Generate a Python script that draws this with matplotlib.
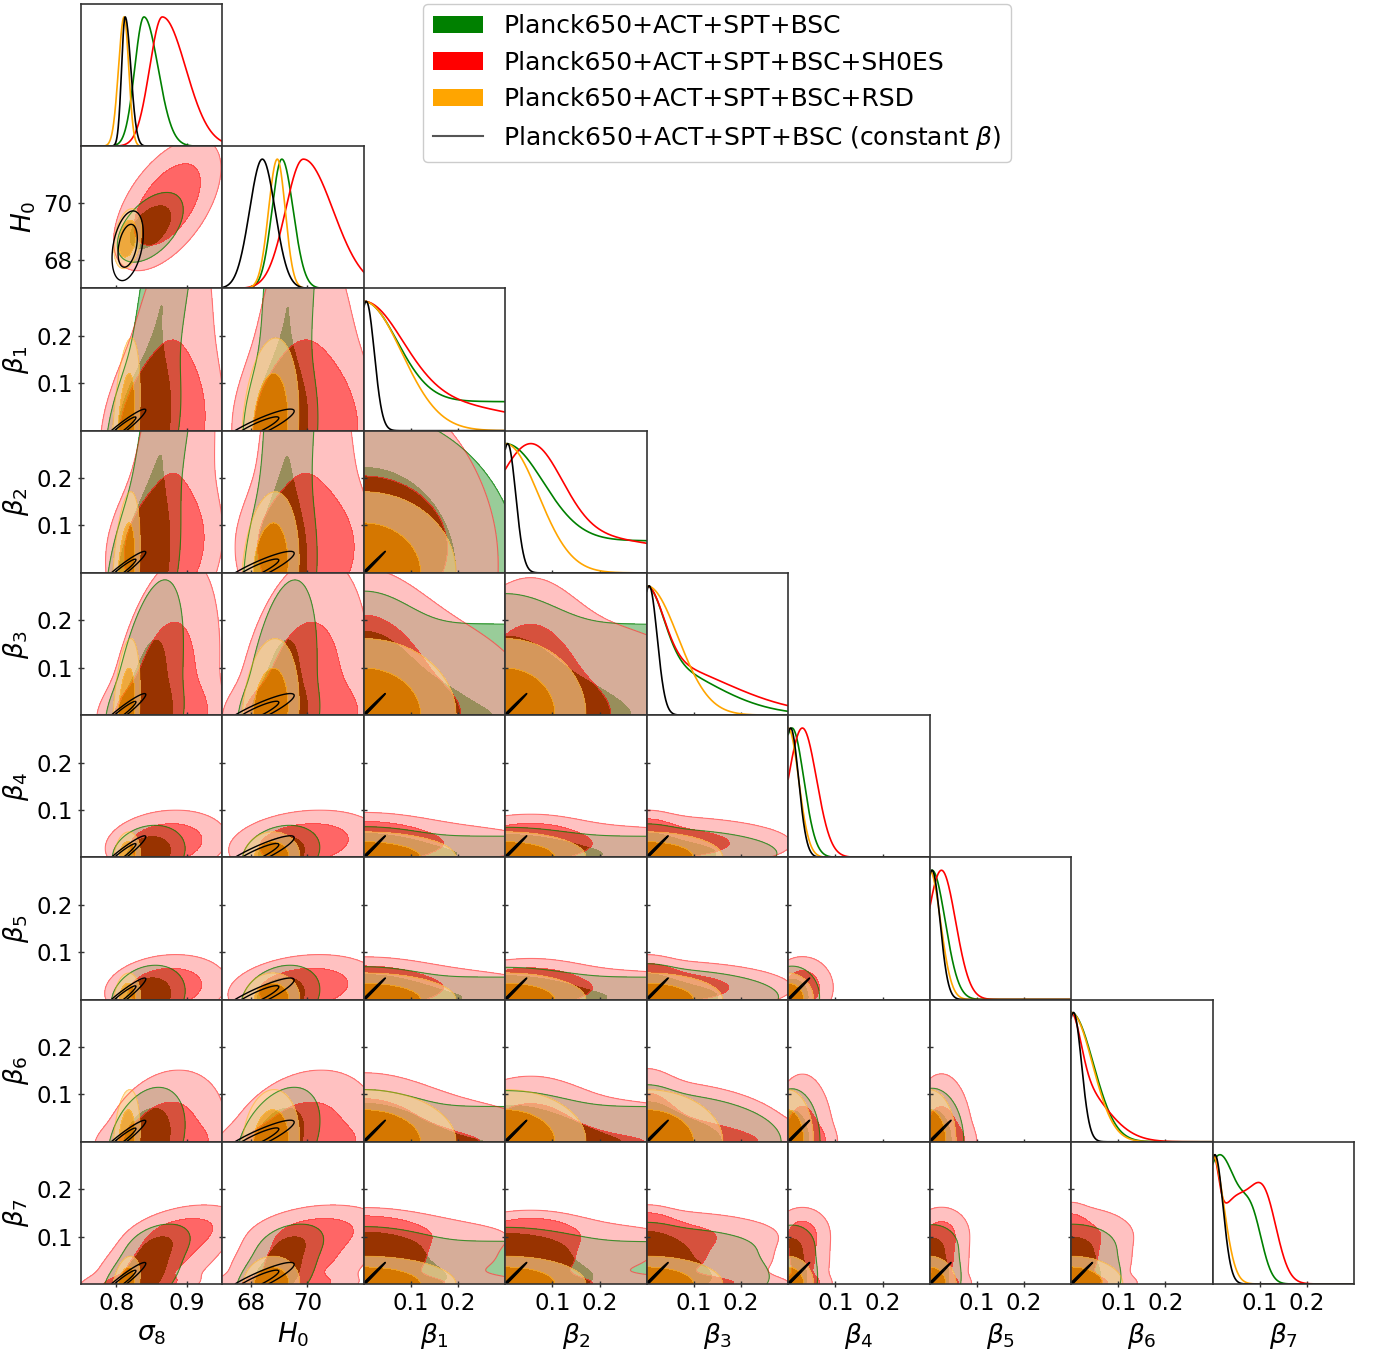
"""Triangle plot of sigma_8, H_0 and the binned beta parameters for four data combinations."""

import matplotlib

matplotlib.use("Agg", force=True)

import matplotlib.pyplot as plt
import numpy as np
from matplotlib.colors import to_rgb
from matplotlib.lines import Line2D
from matplotlib.patches import Patch

LABELS = [
    "Planck650+ACT+SPT+BSC",
    "Planck650+ACT+SPT+BSC+SH0ES",
    "Planck650+ACT+SPT+BSC+RSD",
    r"Planck650+ACT+SPT+BSC (constant $\beta$)",
]
COLORS = ["green", "red", "orange", "black"]
FILL_ALPHA = [1.0, 0.6, 0.6, None]  # None -> unfilled line contours
CONSTANT_BETA = [False, False, False, True]

PARAM_LABELS = [r"$\sigma_8$", r"$H_0$"] + [rf"$\beta_{k}$" for k in range(1, 8)]
PARAM_RANGES = [(0.75, 0.95), (67.0, 72.0)] + [(0.0, 0.3)] * 7
PARAM_TICKS = [[0.8, 0.9], [68, 70]] + [[0.1, 0.2]] * 7
TICK_LABELS = [["0.8", "0.9"], ["68", "70"]] + [["0.1", "0.2"]] * 7

# 1D sigma_8 / H_0 marginals: peak and split widths (below, above)
S8_PEAK = [0.839, 0.865, 0.811, 0.8124]
S8_SD_LO = [0.013, 0.018, 0.008, 0.005]
S8_SD_HI = [0.020, 0.033, 0.0065, 0.008]
H0_PEAK = [69.10, 69.86, 68.94, 68.41]
H0_SD_LO = [0.35, 0.63, 0.31, 0.45]
H0_SD_HI = [0.40, 1.05, 0.28, 0.45]

# 2D sigma_8 / H_0 posteriors (mean, sd, correlation)
PAIR_S8_MEAN = [0.848, 0.872, 0.816, 0.816]
PAIR_S8_SD = [0.019, 0.031, 0.008, 0.009]
PAIR_H0_MEAN = [69.15, 69.95, 68.75, 68.50]
PAIR_H0_SD = [0.50, 0.95, 0.43, 0.50]
PAIR_RHO = [0.5, 0.55, 0.3, 0.35]
COND_WIDTH = [1.12, 1.18, 0.95, 0.5]

# beta posteriors: two mixture components (core, tail) sharing one weight;
# each bin is a sum of (height, mean, sd) gaussian pieces on 0 <= beta <= 0.3
TAIL_WEIGHT = [0.5, 0.5, 0.0, 0.0]
GREEN_CORE = [
    [(1.0, 0.0, 0.07)],
    [(1.0, 0.0, 0.08)],
    [(1.0, 0.0, 0.035), (0.22, 0.0, 0.13)],
    [(1.0, 0.008, 0.025)],
    [(1.0, 0.005, 0.028)],
    [(1.0, 0.0, 0.047)],
    [(0.6, 0.0, 0.03), (0.45, 0.04, 0.03), (0.35, 0.085, 0.022)],
]
GREEN_TAIL = [[(1.0, 0.0, 2.0)], [(1.0, 0.0, 2.0)], [(1.0, 0.0, 0.13)]] + GREEN_CORE[3:]
RED_CORE = [
    [(1.0, 0.0, 0.08)],
    [(1.0, 0.055, 0.065)],
    [(1.0, 0.0, 0.035), (0.25, 0.0, 0.16)],
    [(1.0, 0.03, 0.03)],
    [(1.0, 0.025, 0.03)],
    [(0.5, 0.0, 0.02), (0.5, 0.0, 0.065)],
    [(0.6, 0.0, 0.012), (0.62, 0.05, 0.045), (0.45, 0.112, 0.026)],
]
RED_TAIL = [[(1.0, 0.0, 0.25)], [(1.0, 0.0, 0.35)], [(1.0, 0.0, 0.16)]] + RED_CORE[3:]
ORANGE_CORE = [
    [(1.0, 0.0, 0.08)],
    [(1.0, 0.0, 0.07)],
    [(1.0, 0.0, 0.066)],
    [(1.0, 0.0, 0.022)],
    [(1.0, 0.0, 0.023)],
    [(1.0, 0.0, 0.045)],
    [(1.0, 0.0, 0.024)],
]
BLACK_CORE = [[(1.0, 0.005, 0.017)]] * 7
BETA_CORE = [GREEN_CORE, RED_CORE, ORANGE_CORE, BLACK_CORE]
BETA_TAIL = [GREEN_TAIL, RED_TAIL, ORANGE_CORE, BLACK_CORE]

# shift of the sigma_8 / H_0 centre per unit beta
S8_SLOPE = [
    [0.1, 0.1, 0.1, 0.15, 0.15, 0.15, 0.35],
    [0.08, 0.08, 0.1, 0.2, 0.2, 0.15, 0.55],
    [0.04, 0.04, 0.04, 0.04, 0.04, 0.04, 0.1],
    [0.8] * 7,
]
H0_SLOPE = [
    [1.0, 1.0, 2.0, 5.0, 5.0, 5.0, 8.0],
    [0.0, 0.0, 2.0, 8.0, 8.0, 5.0, 10.0],
    [1.0] * 7,
    [30.0] * 7,
]

CONTOUR_PROBS = (0.95, 0.68)
N_PARAMS = len(PARAM_LABELS)

S8_GRID = np.linspace(0.60, 1.10, 320)
H0_GRID = np.linspace(63.0, 76.0, 320)
BETA_GRID = np.linspace(0.0, 0.3, 260)
RIDGE_GRID = np.linspace(0.0, 0.09, 450)


def gauss(x, mu, sd):
    return np.exp(-0.5 * ((x - mu) / sd) ** 2)


def split_gauss(x, mu, sd_lo, sd_hi):
    return np.where(x < mu, gauss(x, mu, sd_lo), gauss(x, mu, sd_hi))


def pieces(parts, b):
    return sum(h * gauss(b, m, s) for h, m, s in parts)


def unit_pieces(parts, b):
    """Pieces scaled to unit mass over the plotted beta range."""
    return pieces(parts, b) / np.trapezoid(pieces(parts, BETA_GRID), BETA_GRID)


def components(d, k):
    w = TAIL_WEIGHT[d]
    return [(1.0 - w, BETA_CORE[d][k]), (w, BETA_TAIL[d][k])]


def beta_marginal(d, k, b):
    return sum(w * unit_pieces(parts, b) for w, parts in components(d, k) if w > 0)


def hpd_levels(z):
    flat = np.sort(z.ravel())[::-1]
    cum = np.cumsum(flat)
    cum /= cum[-1]
    return [flat[min(np.searchsorted(cum, p), flat.size - 1)] for p in CONTOUR_PROBS]


def pale(color):
    return tuple(c * 0.4 + 0.6 for c in to_rgb(color))


def density_1d(d, p, x):
    if p == 0:
        return split_gauss(x, S8_PEAK[d], S8_SD_LO[d], S8_SD_HI[d])
    if p == 1:
        return split_gauss(x, H0_PEAK[d], H0_SD_LO[d], H0_SD_HI[d])
    return beta_marginal(d, p - 2, x)


def density_2d(d, px, py):
    """Joint density on a mesh for parameter px (x-axis) and py (y-axis)."""
    if px == 0 and py == 1:
        X, Y = np.meshgrid(S8_GRID, H0_GRID)
        rho = PAIR_RHO[d]
        u = (X - PAIR_S8_MEAN[d]) / PAIR_S8_SD[d]
        v = (Y - PAIR_H0_MEAN[d]) / PAIR_H0_SD[d]
        Z = np.exp(-(u * u - 2 * rho * u * v + v * v) / (2 * (1 - rho * rho)))
        return X, Y, Z

    if px in (0, 1):
        k = py - 2
        fb = beta_marginal(d, k, BETA_GRID)
        b_mean = np.trapezoid(fb * BETA_GRID, BETA_GRID) / np.trapezoid(fb, BETA_GRID)
        if px == 0:
            x, mu, sd, slope = S8_GRID, PAIR_S8_MEAN[d], PAIR_S8_SD[d], S8_SLOPE[d][k]
        else:
            x, mu, sd, slope = H0_GRID, PAIR_H0_MEAN[d], PAIR_H0_SD[d], H0_SLOPE[d][k]
        sd = sd * COND_WIDTH[d]
        X, Y = np.meshgrid(x, BETA_GRID)
        Z = beta_marginal(d, k, Y) * gauss(X, mu + slope * (Y - b_mean), sd)
        return X, Y, Z

    if CONSTANT_BETA[d]:
        # every bin shares one beta: a narrow ridge along the diagonal
        X, Y = np.meshgrid(RIDGE_GRID, RIDGE_GRID)
        Z = beta_marginal(d, 0, 0.5 * (X + Y)) * gauss(X - Y, 0.0, 0.0012)
        return X, Y, Z

    X, Y = np.meshgrid(BETA_GRID, BETA_GRID)
    Z = np.zeros_like(X)
    for (w, parts_x), (_, parts_y) in zip(components(d, px - 2), components(d, py - 2)):
        if w > 0:
            Z += w * unit_pieces(parts_x, X) * unit_pieces(parts_y, Y)
    return X, Y, Z


def draw_2d(ax, px, py):
    for d, color in enumerate(COLORS):
        X, Y, Z = density_2d(d, px, py)
        l95, l68 = hpd_levels(Z)
        if FILL_ALPHA[d] is None:
            ax.contour(X, Y, Z, levels=[l95, l68], colors=[color], linewidths=1.0)
            continue
        top = Z.max() * 1.01
        ax.contourf(X, Y, Z, levels=[l95, l68, top], colors=[pale(color), color], alpha=FILL_ALPHA[d])
        ax.contour(X, Y, Z, levels=[l95], colors=[color], linewidths=0.8, alpha=FILL_ALPHA[d] * 0.7)


def draw_1d(ax, p):
    lo, hi = PARAM_RANGES[p]
    x = np.linspace(lo, hi, 500)
    for d, color in enumerate(COLORS):
        y = density_1d(d, p, x)
        ax.plot(x, y / y.max(), color=color, lw=1.2)
    ax.set_ylim(0, 1.1)


plt.rcParams["font.family"] = "DejaVu Sans"
plt.rcParams["mathtext.fontset"] = "dejavusans"

fig, axes = plt.subplots(N_PARAMS, N_PARAMS, figsize=(13.8, 13.53), dpi=100)
fig.subplots_adjust(left=81 / 1380, right=1354 / 1380, top=1 - 4 / 1353, bottom=1 - 1284 / 1353,
                    wspace=0, hspace=0)

for i in range(N_PARAMS):
    for j in range(N_PARAMS):
        ax = axes[i, j]
        if j > i:
            ax.remove()
            continue
        if i == j:
            draw_1d(ax, i)
            ax.set_yticks([])
        else:
            draw_2d(ax, j, i)
            ax.set_ylim(*PARAM_RANGES[i])
            ax.set_yticks(PARAM_TICKS[i])
            if j == 0:
                ax.set_yticklabels(TICK_LABELS[i])
                ax.set_ylabel(PARAM_LABELS[i], fontsize=19)
            else:
                ax.set_yticklabels([])
        ax.set_xlim(*PARAM_RANGES[j])
        ax.set_xticks(PARAM_TICKS[j])
        if i == N_PARAMS - 1:
            ax.set_xticklabels(TICK_LABELS[j])
            ax.set_xlabel(PARAM_LABELS[j], fontsize=19)
        else:
            ax.set_xticklabels([])
        ax.tick_params(direction="inout", length=5, width=1, labelsize=16.5, color="#333333")
        for spine in ax.spines.values():
            spine.set_color("#333333")
            spine.set_linewidth(1.2)

handles = [Patch(facecolor=c) for c in COLORS[:3]] + [Line2D([0], [0], color="#555555", lw=1.5)]
fig.legend(handles, LABELS, loc="upper left", bbox_to_anchor=(423 / 1380, 1 - 4 / 1353),
           borderaxespad=0, fontsize=18, handlelength=2.0, framealpha=1.0)

fig.savefig("out.png", dpi=100)
